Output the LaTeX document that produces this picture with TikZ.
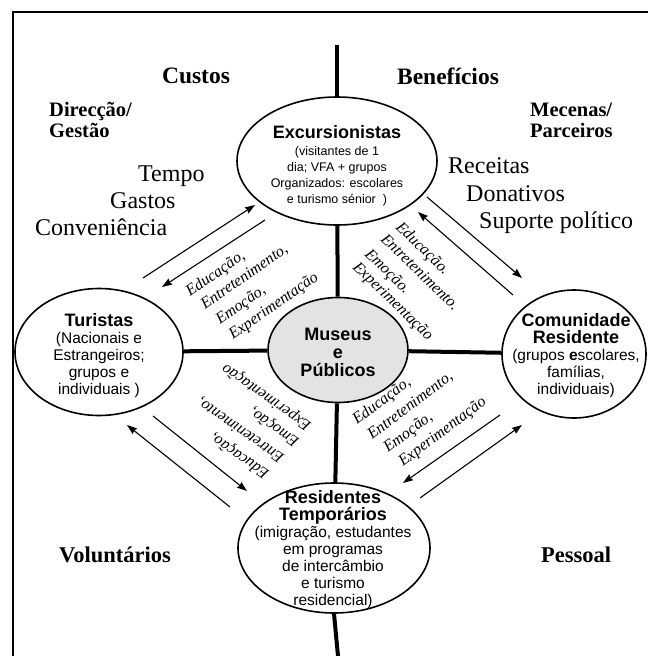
\documentclass[tikz,border=0pt]{standalone}
\usepackage{fontspec}
\setmainfont{Liberation Serif}
\newfontfamily\sansf{Liberation Sans}
\usetikzlibrary{shapes.geometric,arrows.meta}

\newcommand\grouptitle[1]{{\bfseries\fontsize{18}{18}\selectfont #1}}

\tikzset{
  bubble/.style={draw, ellipse, line width=1.6pt, inner sep=0pt},
  spine/.style={line width=4pt},
  flow/.style={line width=1.1pt, -{Stealth[length=10pt,width=7pt,inset=1pt]}},
  headlbl/.style={font=\fontsize{23.5}{25}\selectfont\bfseries, inner sep=0pt},
  sidelbl/.style={font=\fontsize{20.5}{21}\selectfont\bfseries, align=left, inner sep=0pt, anchor=west},
  itemlbl/.style={font=\fontsize{24}{26}\selectfont, inner sep=0pt, anchor=base west},
  vallbl/.style={font=\fontsize{16}{18}\selectfont\itshape, inner sep=0pt, anchor=base west},
  inbub/.style={align=center, inner sep=0pt, font=\sansf\fontsize{15.5}{17}\selectfont},
}

\begin{document}
\begin{tikzpicture}[x=1pt,y=-1pt]
\useasboundingbox (0,0) rectangle (648,656);

% frame
\draw[line width=2pt] (13,656) -- (13,12) -- (648,12);

% the five groups
\node[bubble, minimum width=200pt, minimum height=128pt] (exc) at (337,161) {};
\node[bubble, fill=black!11, minimum width=140pt, minimum height=105pt] (mus) at (338,350) {};
\node[bubble, minimum width=168pt, minimum height=127pt] (tur) at (99,352) {};
\node[bubble, minimum width=144pt, minimum height=128pt] (com) at (574,354) {};
\node[bubble, minimum width=192pt, minimum height=130pt] (res) at (334,548) {};

% spines
\coordinate (topend) at (337,45);
\coordinate (botend) at (338,656);
\draw[spine] (topend) -- (exc.north);
\draw[spine] (exc) -- (mus);
\draw[spine] (mus) -- (res);
\draw[spine] (res.south) -- (botend);
\draw[spine] (tur) -- (mus);
\draw[spine] (mus) -- (com);

% texts inside the groups
\node[align=center, inner sep=0pt, font=\sansf\fontsize{12.5}{16}\selectfont] (exct) at (337,166)
  {\grouptitle{Excursionistas}\\[1pt](visitantes de 1\\dia; VFA + grupos\\Organizados: escolares\\e turismo sénior~~)};
\node[align=center, inner sep=0pt, font=\sansf\bfseries\fontsize{18}{18}\selectfont] (must) at (338,352)
  {Museus\\e\\Públicos};
\node[inbub] (turt) at (99,356)
  {\grouptitle{Turistas}\\(Nacionais e\\Estrangeiros;\\grupos e\\individuais )};
\node[inbub] (comt) at (576,356)
  {\grouptitle{Comunidade}\\\grouptitle{Residente}\\(grupos \textbf{e}scolares,\\famílias,\\individuais)};
\node[inbub] (rest) at (333,550)
  {\grouptitle{Residentes}\\\grouptitle{Temporários}\\(imigração, estudantes\\em programas\\de intercâmbio\\e turismo\\residencial)};

% headings
\node[headlbl] (custos) at (196,76) {Custos};
\node[headlbl] (benef) at (448,76) {Benefícios};
\node[sidelbl] (direc) at (49,120) {Direcção/\\Gestão};
\node[sidelbl] (mecen) at (530,120) {Mecenas/\\Parceiros};
\node[headlbl, anchor=base west, font=\fontsize{22.5}{24}\selectfont\bfseries] (volunt) at (59,562) {Voluntários};
\node[headlbl, anchor=base west, font=\fontsize{22.5}{24}\selectfont\bfseries] (pessoal) at (541,562) {Pessoal};

% costs and benefits
\node[itemlbl] (tempo) at (138,181) {Tempo};
\node[itemlbl] (gastos) at (110,208) {Gastos};
\node[itemlbl] (conv) at (35,235) {Conveniência};
\node[itemlbl] (receitas) at (448,173) {Receitas};
\node[itemlbl] (donat) at (466,201) {Donativos};
\node[itemlbl] (suporte) at (479,228) {Suporte político};

% exchange arrows
\coordinate (a1s) at (143,278); \coordinate (a1e) at (255,205);
\coordinate (a2s) at (265,220); \coordinate (a2e) at (162,287);
\coordinate (b1s) at (427,197); \coordinate (b1e) at (522,278);
\coordinate (b2s) at (513,295); \coordinate (b2e) at (418,212);
\coordinate (c1s) at (230,507); \coordinate (c1e) at (127,425);
\coordinate (c2s) at (153,416); \coordinate (c2e) at (247,491);
\coordinate (d1s) at (500,415); \coordinate (d1e) at (403,483);
\coordinate (d2s) at (420,498); \coordinate (d2e) at (522,425);
\draw[flow] (a1s) -- (a1e);
\draw[flow] (a2s) -- (a2e);
\draw[flow] (b1s) -- (b1e);
\draw[flow] (b2s) -- (b2e);
\draw[flow] (c1s) -- (c1e);
\draw[flow] (c2s) -- (c2e);
\draw[flow] (d1s) -- (d1e);
\draw[flow] (d2s) -- (d2e);

% values offered to each group
\node[vallbl, rotate=35] (a1) at (190,297) {Educação,};
\node[vallbl, rotate=35] (a2) at (205,310) {Entretenimento,};
\node[vallbl, rotate=35] (a3) at (220,325) {Emoção,};
\node[vallbl, rotate=35] (a4) at (233,340) {Experimentação};

\node[vallbl, rotate=-44] (b1) at (395,228) {Educação.};
\node[vallbl, rotate=-44] (b2) at (380,240) {Entretenimento.};
\node[vallbl, rotate=-44] (b3) at (364,255) {Emoção.};
\node[vallbl, rotate=-44] (b4) at (352,268) {Experimentação};

\node[vallbl, rotate=145] (c1) at (270,472) {Educação,};
\node[vallbl, rotate=145] (c2) at (285,456) {Entretenimento,};
\node[vallbl, rotate=145] (c3) at (300,440) {Emoção,};
\node[vallbl, rotate=145] (c4) at (312,424) {Experimentação};

\node[vallbl, rotate=37] (d1) at (357,425) {Educação,};
\node[vallbl, rotate=37] (d2) at (372,440) {Entretenimento,};
\node[vallbl, rotate=37] (d3) at (388,453) {Emoção,};
\node[vallbl, rotate=37] (d4) at (403,467) {Experimentação};
\end{tikzpicture}
\end{document}
